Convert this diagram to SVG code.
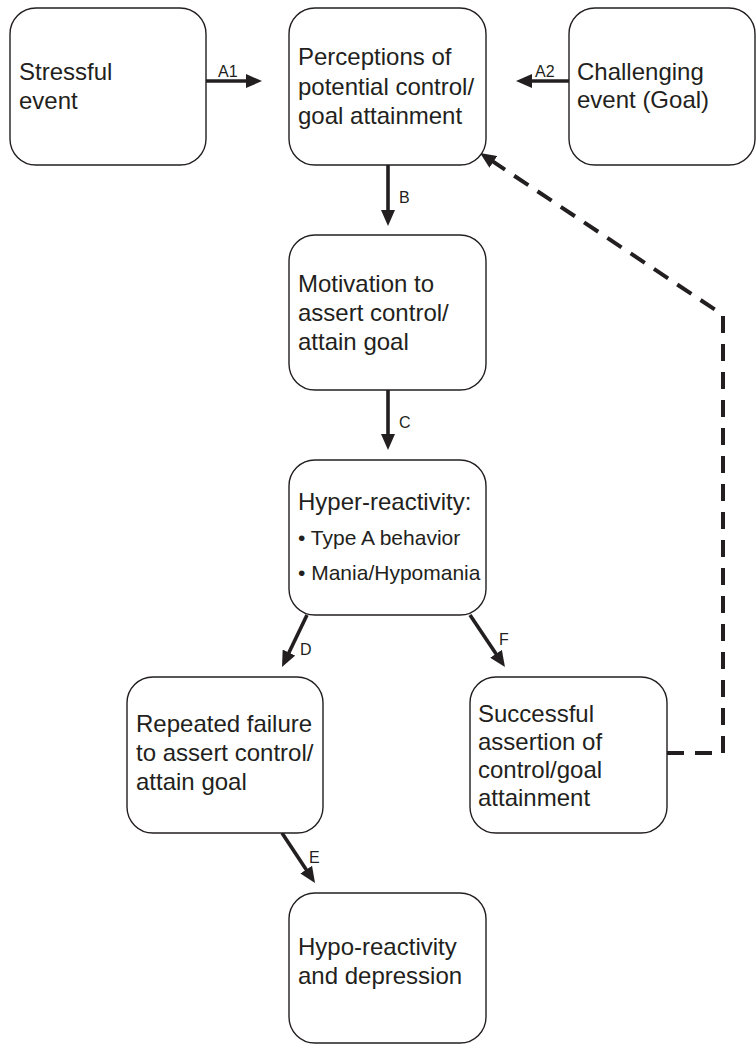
<svg xmlns="http://www.w3.org/2000/svg" width="756" height="1046" viewBox="0 0 756 1046">
<style>
.box{fill:#fff;stroke:#231f20;stroke-width:1.4}
.t{font-family:"Liberation Sans",Arial,sans-serif;font-size:24px;fill:#231f20}
.s{font-family:"Liberation Sans",Arial,sans-serif;font-size:21px;fill:#231f20}
.l{font-family:"Liberation Sans",Arial,sans-serif;font-size:16px;fill:#231f20}
.c{stroke:#231f20;stroke-width:3.6;fill:none;marker-end:url(#ah)}
.d{stroke:#231f20;stroke-width:4;fill:none;stroke-dasharray:17 11;marker-end:url(#ah)}
</style>
<defs>
<marker id="ah" markerUnits="userSpaceOnUse" viewBox="0 0 16 14" refX="8" refY="7" markerWidth="16" markerHeight="14" orient="auto">
<path d="M0,0 L16,7 L0,14 z" fill="#231f20"/>
</marker>
</defs>
<rect width="756" height="1046" fill="#fff"/>
<g id="connectors">
<line class="c" x1="206" y1="81" x2="254" y2="81"/>
<text class="l" x="218" y="77">A1</text>
<line class="c" x1="569" y1="81" x2="524" y2="81"/>
<text class="l" x="535" y="77">A2</text>
<line class="c" x1="388" y1="165" x2="388" y2="218"/>
<text class="l" x="399" y="203">B</text>
<line class="c" x1="388" y1="390" x2="388" y2="442"/>
<text class="l" x="399" y="428">C</text>
<line class="c" x1="307" y1="615" x2="285.5" y2="659.8"/>
<text class="l" x="300" y="655">D</text>
<line class="c" x1="470" y1="615" x2="500.5" y2="660.4"/>
<text class="l" x="499" y="645">F</text>
<line class="c" x1="282" y1="833" x2="310.6" y2="876.3"/>
<text class="l" x="309" y="863">E</text>
<path class="d" d="M667,753 L723,753 L723,315 L486.7,157.4"/>
</g>
<g id="stressful">
<rect class="box" x="10" y="8" width="196" height="157" rx="26"/>
<text class="t" x="19" y="80">Stressful</text>
<text class="t" x="19" y="109">event</text>
</g>
<g id="perceptions">
<rect class="box" x="289" y="8" width="197" height="157" rx="26"/>
<text class="t" x="298" y="65">Perceptions of</text>
<text class="t" x="298" y="95">potential control/</text>
<text class="t" x="298" y="124">goal attainment</text>
</g>
<g id="challenging">
<rect class="box" x="569" y="8" width="186" height="157" rx="26"/>
<text class="t" x="577" y="80">Challenging</text>
<text class="t" x="577" y="108">event (Goal)</text>
</g>
<g id="motivation">
<rect class="box" x="289" y="235" width="197" height="155" rx="26"/>
<text class="t" x="298" y="292">Motivation to</text>
<text class="t" x="298" y="321">assert control/</text>
<text class="t" x="298" y="350">attain goal</text>
</g>
<g id="hyper">
<rect class="box" x="289" y="460" width="197" height="155" rx="26"/>
<text class="t" x="298" y="510">Hyper-reactivity:</text>
<text class="s" x="298" y="545">• Type A behavior</text>
<text class="s" x="298" y="580">• Mania/Hypomania</text>
</g>
<g id="repeated">
<rect class="box" x="127" y="677" width="196" height="156" rx="26"/>
<text class="t" x="136" y="732">Repeated failure</text>
<text class="t" x="136" y="761">to assert control/</text>
<text class="t" x="136" y="790">attain goal</text>
</g>
<g id="successful">
<rect class="box" x="470" y="677" width="197" height="156" rx="26"/>
<text class="t" x="478" y="722">Successful</text>
<text class="t" x="478" y="750">assertion of</text>
<text class="t" x="478" y="778">control/goal</text>
<text class="t" x="478" y="806">attainment</text>
</g>
<g id="hypo">
<rect class="box" x="289" y="893" width="197" height="150" rx="26"/>
<text class="t" x="298" y="955">Hypo-reactivity</text>
<text class="t" x="298" y="984">and depression</text>
</g>
</svg>
